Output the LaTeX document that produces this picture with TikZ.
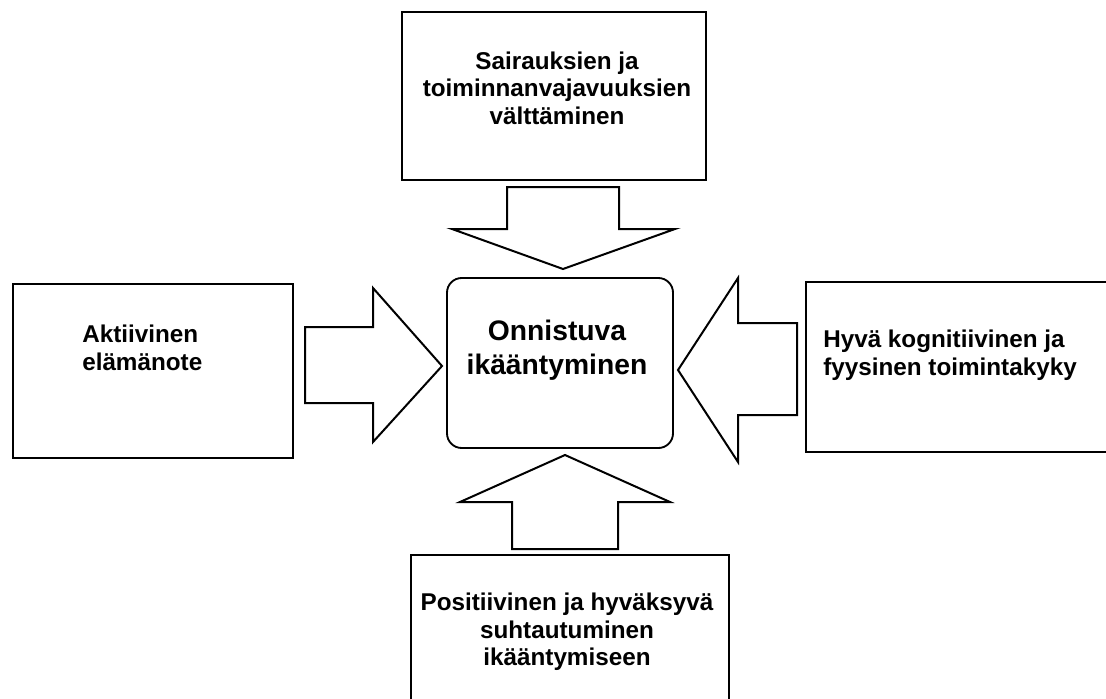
\documentclass[tikz,border=0pt]{standalone}
\usepackage{fontspec}
\setmainfont{Liberation Sans}
\usepackage{tikz}

\begin{document}
\begin{tikzpicture}[x=0.75pt,y=0.75pt,yscale=-1,xscale=1,
  box/.style={draw,line width=1.8pt,rectangle,inner sep=0pt},
  blockarrow/.style={draw,line width=1.5pt,fill=white},
  txt/.style={inner sep=0pt,font=\bfseries\fontsize{18.2}{20.6}\selectfont}]
\useasboundingbox (0,0) rectangle (1106,699);
\clip (0,0) rectangle (1106,699);

%Shape: Rectangle (top)
\node[box,minimum width=228pt,minimum height=126pt] (top) at (554,96) {};
%Shape: Rectangle (left)
\node[box,minimum width=210pt,minimum height=130.5pt] (left) at (153,371) {};
%Shape: Rectangle (right, runs off the page)
\node[box,minimum width=235.5pt,minimum height=127.5pt] (right) at (963,367) {};
%Shape: Rectangle (bottom, runs off the page)
\node[box,minimum width=238.5pt,minimum height=120pt] (bottom) at (570,635) {};
%Shape: Rounded Rectangle (centre)
\node[draw,line width=1.4pt,rounded corners=11pt,minimum width=169.5pt,minimum height=127.5pt,inner sep=0pt] (centre) at (560,363) {};

%Shape: Down Arrow
\draw[blockarrow] (507,187) -- (619,187) -- (619,229) -- (675,229) -- (563,269) -- (452,229) -- (507,229) -- cycle ;
%Shape: Right Arrow
\draw[blockarrow] (305,327) -- (373,327) -- (373,288) -- (442,366) -- (373,442) -- (373,403) -- (305,403) -- cycle ;
%Shape: Left Arrow
\draw[blockarrow] (797,323) -- (738,323) -- (738,278) -- (678,370) -- (738,462) -- (738,415) -- (797,415) -- cycle ;
%Shape: Up Arrow
\draw[blockarrow] (512,549) -- (512,502) -- (460,502) -- (565,455) -- (670,502) -- (618,502) -- (618,549) -- cycle ;

% Text Node
\node[txt,align=center] (topText) at (557,88) {Sairauksien ja\\toiminnanvajavuuksien\\välttäminen};
% Text Node
\node[txt,align=left,anchor=west] (leftText) at (82,348) {Aktiivinen\\elämänote};
% Text Node
\node[txt,align=left,anchor=west] (rightText) at (823,355) {Hyvä kognitiivinen ja\\fyysinen toimintakyky};
% Text Node
\node[txt,align=center] (bottomText) at (567,632) {Positiivinen ja hyväksyvä\\suhtautuminen\\ikääntymiseen};
% Text Node
\node[inner sep=0pt,align=center,font=\bfseries\fontsize{21.2}{25.5}\selectfont] (centreText) at (557,350) {Onnistuva\\ikääntyminen};

\end{tikzpicture}
\end{document}
